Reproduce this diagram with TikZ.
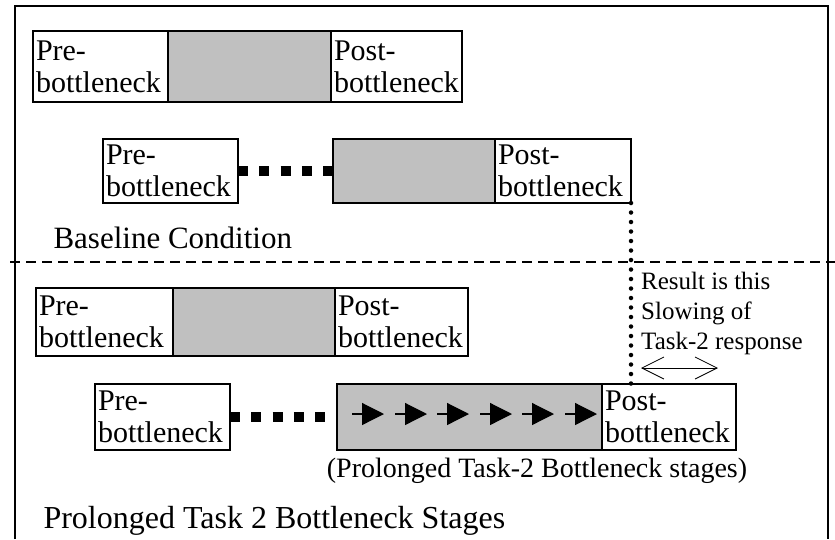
\documentclass[tikz,border=0pt]{standalone}
\usepackage{fontspec}
\setmainfont{Liberation Serif}
\usetikzlibrary{arrows.meta}
\definecolor{stagegray}{RGB}{192,192,192}
\newcommand{\stagefont}{\fontsize{30}{32}\selectfont}
\tikzset{
	stage/.style={draw, line width=1.5pt, outer sep=0pt, inner xsep=3pt, inner ysep=0pt,
			anchor=north west, align=left, font=\stagefont},
	busy/.style={stage, fill=stagegray},
	bigdots/.style={line width=10pt, dash pattern=on 10pt off 11.25pt},
	resultdots/.style={line width=4.5pt, line cap=round, dash pattern=on 0pt off 9.5pt},
	flow/.style={line width=1.2pt, -{Triangle[length=22pt,width=22pt]}},
	spanarrow/.style={line width=0.8pt, {Straight Barb[length=22pt,width=22pt]}-{Straight Barb[length=22pt,width=22pt]}}
}
\begin{document}
\begin{tikzpicture}[x=1pt, y=-1pt]
		\useasboundingbox (0, 0) rectangle (835, 539);
		\draw[line width=1.8pt] (15, 539) -- (15, 6) -- (828, 6) -- (828, 539);
		\draw[line width=2pt, dash pattern=on 10pt off 6pt] (10, 262) -- (835, 262);

		% baseline condition
		\node[stage, text width=129pt, minimum height=71pt] (pre1) at (33, 31) {Pre-\\bottleneck};
		\node[busy, text width=157pt, minimum height=71pt] (grey1) at (pre1.north east) {};
		\node[stage, text width=125pt, minimum height=71pt] (post1) at (grey1.north east) {Post-\\bottleneck};

		\node[stage, text width=129pt, minimum height=64pt] (pre2) at (103, 139) {Pre-\\bottleneck};
		\node[busy, text width=156pt, minimum height=64pt] (grey2) at (333, 139) {};
		\node[stage, text width=130pt, minimum height=64pt] (post2) at (grey2.north east) {Post-\\bottleneck};
		\draw[bigdots] (pre2) -- (grey2);

		\node[anchor=base west, font=\fontsize{31}{32}\selectfont] (basecap) at (50, 248) {Baseline Condition};

		% prolonged stages
		\node[stage, text width=131pt, minimum height=68pt] (pre3) at (36, 288) {Pre-\\bottleneck};
		\node[busy, text width=156pt, minimum height=68pt] (grey3) at (pre3.north east) {};
		\node[stage, text width=127pt, minimum height=68pt] (post3) at (grey3.north east) {Post-\\bottleneck};

		\node[stage, text width=129pt, minimum height=66pt] (pre4) at (95, 384) {Pre-\\bottleneck};
		\node[busy, text width=259pt, minimum height=66pt] (grey4) at (337, 384) {};
		\node[stage, text width=128pt, minimum height=66pt] (post4) at (grey4.north east) {Post-\\bottleneck};
		\draw[bigdots, shorten >=10pt] (pre4) -- (grey4);

		\foreach \x in {352, 395, 437, 480, 522, 565}{
				\draw[flow] (\x, 414) -- ++(32, 0);
			}

		\draw[resultdots] (post2.south east) -- (post2.south east |- post4.north);

		\node[anchor=north west, align=left, inner sep=0pt, font=\fontsize{25}{30}\selectfont] (result) at (641, 272)
			{Result is this\\Slowing of\\Task-2 response};
		\coordinate (slowL) at (641, 368);
		\coordinate (slowR) at (718, 368);
		\draw[spanarrow] (slowL) -- (slowR);

		\node[anchor=base, font=\fontsize{28}{30}\selectfont] (prolcap) at (537, 477) {(Prolonged Task-2 Bottleneck stages)};
		\node[anchor=base west, font=\fontsize{32}{34}\selectfont] (prolname) at (40, 528) {Prolonged Task 2 Bottleneck Stages};
	\end{tikzpicture}
\end{document}
